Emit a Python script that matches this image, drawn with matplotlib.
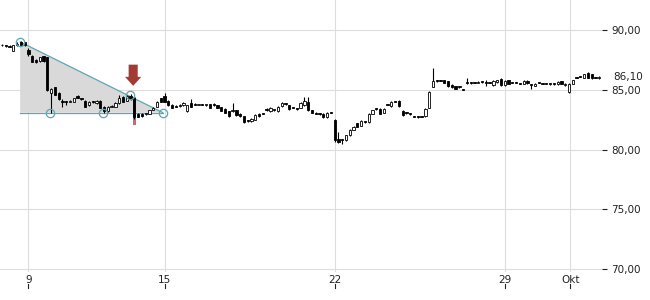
import matplotlib
matplotlib.use('Agg')
import matplotlib.pyplot as plt
import matplotlib.transforms as mtransforms
from matplotlib.patches import FancyArrow, Polygon

# intraday candles, 9 per trading day (Sep 8 - Oct 1)
opens = [
    88.75, 88.70, 88.65, 88.25, 88.70, 89.00, 88.95, 88.30, 87.80, 87.50,
    87.40, 87.80, 87.70, 84.75, 85.20, 84.75, 84.10, 84.00, 84.00, 84.00,
    84.45, 84.30, 84.10, 83.70, 84.00, 83.90, 84.10, 83.60, 83.20, 83.60,
    83.60, 83.90, 84.40, 84.10, 84.45, 84.30, 83.00, 83.00, 82.95, 83.00,
    83.35, 83.60, 84.30, 84.45, 84.10, 83.75, 83.60, 83.65, 83.70, 83.20,
    83.90, 83.75, 83.75, 83.80, 83.70, 83.80, 83.70, 83.70, 83.55, 83.40,
    83.20, 83.20, 83.30, 83.00, 82.80, 82.40, 82.40, 82.50, 83.00, 83.00,
    83.30, 83.20, 83.30, 83.20, 83.65, 83.85, 83.70, 83.50, 83.40, 83.50,
    83.70, 84.00, 83.30, 83.10, 83.00, 83.00, 82.70, 83.10, 82.50, 80.90,
    80.80, 80.80, 81.20, 81.65, 82.20, 82.00, 82.30, 82.30, 83.00, 83.40,
    83.40, 83.10, 83.75, 83.65, 84.00, 84.10, 83.25, 83.10, 83.00, 82.80,
    82.75, 82.75, 82.80, 83.50, 85.25, 85.70, 85.75, 85.80, 85.70, 85.40,
    85.30, 85.20, 85.00, 85.55, 85.60, 85.60, 85.60, 85.65, 85.60, 85.60,
    85.40, 85.65, 85.90, 85.40, 85.80, 85.60, 85.60, 85.50, 85.50, 85.75,
    85.40, 85.35, 85.60, 85.55, 85.50, 85.45, 85.55, 85.45, 85.70, 85.40,
    84.80, 85.50, 86.00, 86.10, 86.00, 86.40, 86.30, 86.00, 85.95,
]
closes = [
    88.70, 88.65, 88.60, 88.70, 88.85, 88.75, 88.70, 88.00, 87.35, 87.30,
    87.70, 87.40, 85.00, 85.10, 84.60, 84.20, 84.00, 84.00, 84.05, 84.30,
    84.35, 84.20, 83.60, 84.00, 84.00, 84.10, 83.50, 83.20, 83.60, 83.65,
    83.90, 84.30, 84.00, 84.50, 84.20, 82.75, 82.75, 82.80, 83.00, 83.30,
    83.50, 84.00, 84.00, 84.00, 83.70, 83.50, 83.60, 83.75, 83.90, 83.70,
    83.60, 83.75, 83.80, 83.75, 83.80, 83.50, 83.70, 83.50, 83.25, 83.10,
    82.80, 83.35, 82.90, 82.80, 82.30, 82.40, 82.60, 82.90, 82.80, 83.00,
    83.30, 83.50, 83.30, 83.60, 83.90, 83.80, 83.40, 83.50, 83.40, 83.90,
    84.10, 83.30, 83.10, 83.00, 82.95, 82.70, 83.10, 83.10, 80.80, 80.60,
    80.80, 81.20, 81.65, 81.90, 81.90, 82.40, 82.30, 83.00, 83.30, 83.40,
    83.00, 83.40, 83.75, 84.00, 84.00, 83.65, 82.90, 83.05, 82.95, 82.75,
    82.70, 82.75, 83.40, 84.85, 85.70, 85.70, 85.75, 85.60, 85.30, 85.20,
    85.10, 85.20, 85.00, 85.55, 85.55, 85.60, 85.65, 85.65, 85.60, 85.60,
    85.75, 85.80, 85.40, 85.75, 85.50, 85.60, 85.60, 85.50, 85.75, 85.55,
    85.40, 85.50, 85.60, 85.50, 85.50, 85.45, 85.45, 85.65, 85.50, 85.50,
    85.50, 85.80, 86.00, 86.10, 86.30, 86.00, 85.95, 86.00, 86.10,
]
highs = [
    88.80, 88.75, 88.70, 88.75, 88.95, 89.05, 89.00, 88.50, 87.90, 87.55,
    87.75, 87.85, 87.75, 85.15, 85.25, 84.80, 84.20, 84.10, 84.15, 84.35,
    84.60, 84.35, 84.15, 84.05, 84.10, 84.15, 84.15, 83.65, 83.65, 83.70,
    84.00, 84.60, 84.45, 84.60, 84.65, 84.35, 83.05, 83.05, 83.05, 83.35,
    83.55, 84.05, 84.35, 84.70, 84.15, 83.80, 83.70, 83.80, 83.95, 83.75,
    84.20, 83.90, 83.85, 83.85, 83.85, 83.85, 83.90, 83.75, 83.60, 83.45,
    83.25, 83.90, 83.35, 83.05, 82.85, 82.50, 82.65, 82.95, 83.05, 83.05,
    83.50, 83.55, 83.35, 83.65, 83.95, 83.90, 83.75, 83.55, 83.45, 83.95,
    84.40, 84.40, 83.35, 83.15, 83.05, 83.05, 83.15, 83.15, 82.55, 81.50,
    80.90, 81.25, 81.70, 81.95, 82.25, 82.45, 82.40, 83.05, 83.35, 83.50,
    83.45, 83.45, 83.80, 84.05, 84.05, 84.15, 83.30, 83.15, 83.05, 82.85,
    82.80, 82.80, 83.45, 84.90, 86.85, 85.80, 85.85, 85.85, 85.75, 85.45,
    85.35, 85.25, 85.05, 85.95, 85.65, 85.65, 85.70, 85.70, 85.85, 85.65,
    85.80, 85.85, 85.95, 85.80, 85.85, 85.65, 85.65, 85.55, 85.80, 85.80,
    85.50, 85.55, 85.65, 85.60, 85.55, 85.50, 85.60, 85.70, 85.75, 85.55,
    85.55, 85.85, 86.05, 86.15, 86.35, 86.45, 86.35, 86.05, 86.15,
]
lows = [
    88.65, 88.60, 88.55, 88.20, 88.65, 88.70, 88.65, 87.80, 87.30, 87.25,
    87.35, 87.35, 84.90, 83.10, 84.55, 84.15, 83.60, 83.70, 83.95, 83.95,
    84.30, 84.15, 83.55, 83.65, 83.90, 83.85, 83.45, 83.10, 83.15, 83.55,
    83.55, 83.85, 83.95, 84.05, 84.15, 82.60, 82.70, 82.75, 82.90, 82.95,
    83.30, 83.55, 83.95, 83.95, 83.65, 83.45, 83.55, 83.60, 83.65, 83.15,
    83.55, 83.70, 83.70, 83.70, 83.65, 83.45, 83.65, 83.45, 83.20, 83.05,
    82.75, 83.15, 82.85, 82.75, 82.20, 82.35, 82.35, 82.45, 82.75, 82.95,
    83.25, 83.15, 83.25, 83.15, 83.60, 83.75, 83.35, 83.45, 83.35, 83.45,
    83.65, 83.25, 83.05, 82.95, 82.90, 82.65, 82.65, 83.05, 80.60, 80.55,
    80.50, 80.75, 81.15, 81.60, 81.85, 81.95, 82.25, 82.25, 82.95, 83.35,
    82.95, 83.05, 83.70, 83.60, 83.95, 83.60, 82.85, 83.00, 82.90, 82.70,
    82.65, 82.70, 82.75, 83.45, 85.20, 85.65, 85.70, 85.55, 85.25, 85.15,
    85.05, 85.15, 84.95, 85.50, 85.50, 85.55, 85.55, 85.60, 85.35, 85.55,
    85.35, 85.60, 85.35, 85.35, 85.45, 85.55, 85.55, 85.45, 85.45, 85.50,
    85.10, 85.30, 85.55, 85.45, 85.45, 85.40, 85.40, 85.40, 85.45, 85.35,
    84.75, 85.45, 85.95, 86.05, 85.95, 85.95, 85.90, 85.95, 85.90,
]

# x tick positions (candle index) and labels
tick_pos = [7, 43, 88, 133, 150.3]
tick_labels = ['9', '15', '22', '29', 'Okt']
y_ticks = [70, 75, 80, 85, 90]
last_price = 86.10

# triangle pattern: apex (peak), converging point, support level
tri_top = (4.8, 89.0)
tri_end = (42.5, 83.1)
support = 83.1
touch_x = [4.8, 12.7, 26.7, 33.9, 42.6]
touch_y = [89.0, 83.1, 83.1, 84.6, 83.1]
signal_idx = 35

teal = '#5fa6b3'

fig = plt.figure(figsize=(6.5, 3.0), dpi=100)
ax = fig.add_axes([0.0, 0.093, 0.926, 0.907])

ax.set_xlim(-0.53, 158.7)
ax.set_ylim(69.77, 92.5)

ax.grid(True, color='#dddddd', linewidth=0.8)
ax.set_axisbelow(True)
for s in ax.spines.values():
    s.set_visible(False)

# triangle
poly = Polygon([tri_top, tri_end, (tri_top[0], support)], closed=True,
               facecolor='#d9d9d9', edgecolor='none', zorder=1)
ax.add_patch(poly)
ax.plot([tri_top[0], tri_end[0]], [tri_top[1], tri_end[1]], color=teal, lw=0.9, zorder=2)
ax.plot([tri_top[0], tri_end[0]], [support, support], color=teal, lw=0.9, zorder=2)

# signal highlight bar
ax.bar(signal_idx, 84.4 - 82.07, bottom=82.07, width=0.95,
       color='#c0504d', alpha=0.85, zorder=2, linewidth=0)

# candles
for i in range(len(closes)):
    o, c, h, l = opens[i], closes[i], highs[i], lows[i]
    ax.vlines(i, l, h, color='black', linewidth=0.8, zorder=3)
    bottom = min(o, c)
    height = max(abs(c - o), 0.08)
    fc = 'white' if c > o else 'black'
    ax.bar(i, height, bottom=bottom, width=0.6, facecolor=fc,
           edgecolor='black', linewidth=0.6, zorder=4)

# touch circles
ax.plot(touch_x, touch_y, linestyle='none', marker='o', markersize=6,
        markerfacecolor='none', markeredgecolor=teal, markeredgewidth=0.9, zorder=5)

# arrow
arr = FancyArrow(34.7, 87.1, 0, -1.77, width=2.4, head_width=4.3, head_length=0.75,
                 length_includes_head=True, color='#a33a34', linewidth=0, zorder=6)
ax.add_patch(arr)

# axes ticks
ax.yaxis.tick_right()
ax.set_yticks(y_ticks)
ax.set_yticklabels([f'{v:.2f}'.replace('.', ',') for v in y_ticks])
ax.tick_params(axis='y', direction='out', length=3.5, width=0.8, pad=3,
               labelsize=7.5, colors='#222222')
ax.set_xticks(tick_pos)
ax.set_xticklabels(tick_labels)
ax.tick_params(axis='x', length=0, pad=2, labelsize=7.5, colors='#222222')

trans = mtransforms.blended_transform_factory(ax.transData, ax.transAxes)
for p in tick_pos:
    ax.plot([p, p], [-0.043, -0.06], color='#222222', lw=0.8,
            transform=trans, clip_on=False)

ytrans = mtransforms.blended_transform_factory(ax.transAxes, ax.transData)
ax.text(1.0 + 11 / 602, last_price, f'{last_price:.2f}'.replace('.', ','),
        transform=ytrans, fontsize=7.5, color='#222222', va='center', ha='left')

fig.savefig('out.png', dpi=100)
